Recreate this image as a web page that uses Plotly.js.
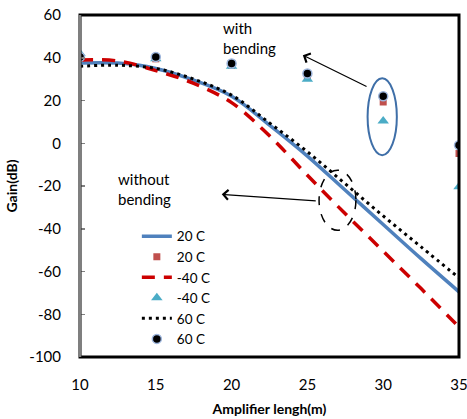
<!DOCTYPE html>
<html>
<head>
<meta charset="utf-8">
<script src="https://cdn.plot.ly/plotly-3.0.1.min.js"></script>
<style>html,body{margin:0;padding:0;background:#fff;}#chart{width:467px;height:419px;}</style>
</head>
<body>
<div id="chart"></div>
<script>
// Curve data (without bending)
const lenCurve = [10, 12.5, 15, 17.5, 20, 22.5, 25, 27.5, 30, 32.5, 35];
const gain20Curve = [37.5, 37.5, 35, 29.5, 22, 8.5, -6, -22, -38, -54, -69.5];
const gainM40Curve = [39, 38.5, 34, 28, 19, 3.5, -15, -33, -50.5, -68, -86];
const gain60Curve = [36, 36.5, 35, 30, 22.5, 9.5, -4, -19, -34, -48.5, -63];

// Point data (with bending)
const lenPts = [10, 15, 20, 25, 30, 35];
const gain20Pts = [40, 39.5, 36.5, 31, 19.3, -4.8];
const gainM40Pts = [42, 39.5, 36, 30, 10.4, -20.4];
const gain60Pts = [40.4, 40.4, 37.3, 32.6, 22, -0.9];

const seriesNames = ['20 C', '20 C', '-40 C', '-40 C', '60 C', '60 C'];
const yTicks = [-100, -80, -60, -40, -20, 0, 20, 40, 60];
const xTicks = [10, 15, 20, 25, 30, 35];

const FONT = 'Lato, Carlito, "Open Sans", sans-serif';

const traces = [
  {x: lenCurve, y: gain20Curve, name: seriesNames[0], mode: 'lines', line: {color: '#4F81BD', width: 3.5, shape: 'spline'}},
  {x: lenPts, y: gain20Pts, name: seriesNames[1], mode: 'markers', marker: {symbol: 'square', color: '#C0504D', size: 7}},
  {x: lenCurve, y: gainM40Curve, name: seriesNames[2], mode: 'lines', line: {color: '#CC0000', width: 3.5, dash: '13px,9px', shape: 'spline'}},
  {x: lenPts, y: gainM40Pts, name: seriesNames[3], mode: 'markers', marker: {symbol: 'triangle-up', color: '#4BACC6', size: 10}},
  {x: lenCurve, y: gain60Curve, name: seriesNames[4], mode: 'lines', line: {color: '#000000', width: 3, dash: '3px,4px', shape: 'spline'}},
  {x: lenPts, y: gain60Pts, name: seriesNames[5], mode: 'markers', marker: {symbol: 'circle', color: '#000000', size: 9, line: {color: '#9DB5DC', width: 1.5}}}
];

const layout = {
  width: 467, height: 419,
  margin: {l: 80, r: 8, t: 15, b: 62},
  paper_bgcolor: '#ffffff', plot_bgcolor: '#ffffff',
  font: {family: FONT, size: 15, color: '#000000'},
  showlegend: true,
  legend: {x: 0.15, y: 0.398, xanchor: 'left', yanchor: 'top', bgcolor: 'rgba(0,0,0,0)', font: {family: FONT, size: 13.5, color: '#000'}, tracegroupgap: 0, itemwidth: 30},
  xaxis: {
    range: [10, 35], tickvals: xTicks, ticktext: xTicks.map(String),
    showgrid: false, zeroline: false, showline: false, ticks: '',
    tickfont: {family: FONT, size: 15, color: '#000'}, ticklabelstandoff: 17, ticklabeloverflow: 'allow',
    title: {text: '<b>Amplifier lengh(m)</b>', font: {family: FONT, size: 14, color: '#000'}, standoff: 12}
  },
  yaxis: {
    range: [-100, 60], tickvals: yTicks, ticktext: yTicks.map(v => v < 0 ? '-' + Math.abs(v) : String(v)),
    showgrid: false, zeroline: false, showline: false, ticks: 'inside', ticklen: 5, tickcolor: '#808080', tickwidth: 1.5,
    tickfont: {family: FONT, size: 15, color: '#000'}, ticklabelstandoff: 18,
    title: {text: '<b>Gain(dB)</b>', font: {family: FONT, size: 14, color: '#000'}, standoff: 8}
  },
  shapes: [
    {type: 'rect', xref: 'paper', yref: 'paper', x0: 0, x1: 1, y0: 0, y1: 1, line: {color: '#000', width: 3}, layer: 'above'},
    {type: 'line', xref: 'paper', yref: 'paper', x0: 0, x1: 0, y0: 0, y1: 1, line: {color: '#7f7f7f', width: 2.5}, layer: 'above'},
    {type: 'circle', xref: 'x', yref: 'y', x0: 28.97, x1: 30.9, y0: -5.6, y1: 30.4, line: {color: '#3F6FA8', width: 2}},
    {type: 'circle', xref: 'x', yref: 'y', x0: 25.77, x1: 28.2, y0: -40.7, y1: -12.6, line: {color: '#000', width: 1.5, dash: 'dash'}}
  ],
  annotations: [
    {x: 19.3, y: 59, xref: 'x', yref: 'y', text: 'with<br>bending', showarrow: false, xanchor: 'left', yanchor: 'top', align: 'left', font: {family: FONT, size: 15, color: '#000'}},
    {x: 12.35, y: -11.5, xref: 'x', yref: 'y', text: 'without<br>bending', showarrow: false, xanchor: 'left', yanchor: 'top', align: 'left', font: {family: FONT, size: 15, color: '#000'}},
    {x: 24.7, y: 41.2, ax: 29, ay: 26.2, xref: 'x', yref: 'y', axref: 'x', ayref: 'y', text: '', showarrow: true, arrowhead: 4, arrowsize: 1.6, arrowwidth: 1.2, arrowcolor: '#000'},
    {x: 19.35, y: -23.9, ax: 25.65, ay: -27, xref: 'x', yref: 'y', axref: 'x', ayref: 'y', text: '', showarrow: true, arrowhead: 4, arrowsize: 1.6, arrowwidth: 1.2, arrowcolor: '#000'}
  ]
};

Plotly.newPlot('chart', traces, layout, {displayModeBar: false, staticPlot: true});
</script>
</body>
</html>
